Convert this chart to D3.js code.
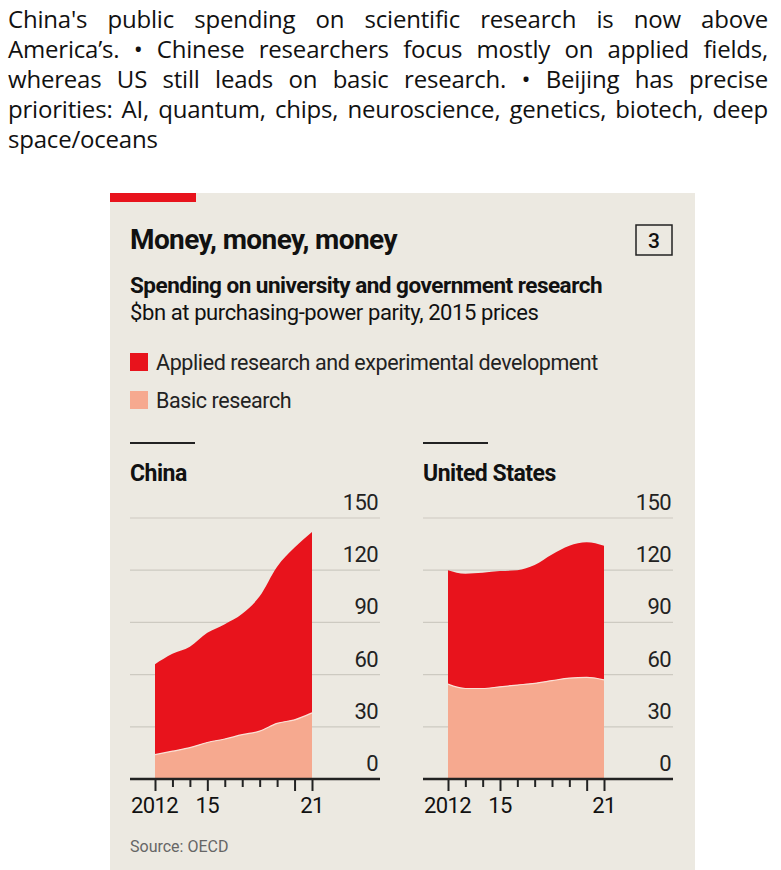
<!DOCTYPE html>
<html><head><meta charset="utf-8">
<script src="https://cdn.jsdelivr.net/npm/d3@7"></script>
<style>
body{margin:0;background:#fff;width:781px;height:870px;overflow:hidden}
#intro{position:absolute;left:8px;top:4px;width:760px;font-family:"Open Sans","Noto Sans",sans-serif;font-size:24px;line-height:30px;text-align:justify;color:#111;margin:0;letter-spacing:-0.2px}
svg{position:absolute;left:0;top:0}
</style></head><body>
<p id="intro">China's public spending on scientific research is now above America’s. • Chinese researchers focus mostly on applied fields, whereas US still leads on basic research. • Beijing has precise priorities: AI, quantum, chips, neuroscience, genetics, biotech, deep space/oceans</p>
<svg width="781" height="870"></svg>
<script>
const years = [2012, 2013, 2014, 2015, 2016, 2017, 2018, 2019, 2020, 2021]
const yTicks = [0, 30, 60, 90, 120, 150]
const chinaTotal = [66, 72, 76, 84, 89, 95, 105, 122, 133, 142]
const chinaBasic = [14, 16, 18, 21, 23, 25.5, 27.5, 32, 34, 38]
const usTotal = [120, 118, 118.5, 119.5, 120, 123, 129, 134, 136, 134]
const usBasic = [54.5, 52, 52, 53, 54, 55, 56.5, 58, 58.4, 57]
const panels = [
  {name: 'China', total: chinaTotal, basic: chinaBasic, x0: 130, x1: 380, xs: 155, xe: 312},
  {name: 'United States', total: usTotal, basic: usBasic, x0: 423, x1: 673, xs: 448, xe: 604},
]
const red = '#e8131c', pink = '#f6a98f', bg = '#ece9e1'
const font = 'Roboto, "Liberation Sans", sans-serif'

const svg = d3.select('svg')
svg.append('rect').attr('x', 110).attr('y', 193).attr('width', 585).attr('height', 677).attr('fill', bg)
svg.append('rect').attr('x', 110).attr('y', 193).attr('width', 86).attr('height', 9).attr('fill', red)

const txt = (x, y, s, size, weight, fill, anchor) => svg.append('text')
  .attr('x', x).attr('y', y).text(s).attr('font-family', font).attr('font-size', size)
  .attr('font-weight', weight || 400).attr('fill', fill || '#111').attr('text-anchor', anchor || 'start')

txt(130, 249, 'Money, money, money', 28, 700).attr('letter-spacing', -0.6)
svg.append('rect').attr('x', 636).attr('y', 225).attr('width', 36).attr('height', 30)
  .attr('fill', 'none').attr('stroke', '#222').attr('stroke-width', 1.5)
txt(654, 248, '3', 21, 500, '#111', 'middle')
txt(130, 293, 'Spending on university and government research', 22.5, 700).attr('letter-spacing', -0.5)
txt(130, 320, '$bn at purchasing-power parity, 2015 prices', 22, 400).attr('letter-spacing', -0.4)
svg.append('rect').attr('x', 130).attr('y', 353).attr('width', 18).attr('height', 18).attr('fill', red)
txt(156, 370, 'Applied research and experimental development', 21.5, 400, '#222').attr('letter-spacing', -0.4)
svg.append('rect').attr('x', 130).attr('y', 391).attr('width', 18).attr('height', 18).attr('fill', pink)
txt(156, 408, 'Basic research', 21.5, 400, '#222').attr('letter-spacing', -0.4)
txt(130, 852, 'Source: OECD', 16, 400, '#666')

const y = d3.scaleLinear().domain([0, 150]).range([779, 518])

panels.forEach(p => {
  const x = d3.scaleLinear().domain([2012, 2021]).range([p.xs, p.xe])
  svg.append('line').attr('x1', p.x0).attr('x2', p.x0 + 65).attr('y1', 443).attr('y2', 443)
    .attr('stroke', '#222').attr('stroke-width', 2)
  txt(p.x0, 481, p.name, 23, 700).attr('letter-spacing', -0.5)

  const g = svg.append('g')
  yTicks.slice(1).forEach(t => g.append('line').attr('x1', p.x0).attr('x2', p.x1)
    .attr('y1', y(t)).attr('y2', y(t)).attr('stroke', '#cdcac1').attr('stroke-width', 1.2))
  yTicks.forEach(t => txt(p.x1 - 2, y(t) - 8, t, 22, 400, '#222', 'end').attr('letter-spacing', -0.6))

  const curve = d3.curveMonotoneX
  const applied = d3.area().x((d, i) => x(years[i])).y0((d, i) => y(p.basic[i])).y1(d => y(d)).curve(curve)
  const basic = d3.area().x((d, i) => x(years[i])).y0(y(0)).y1(d => y(d)).curve(curve)
  g.append('path').attr('d', applied(p.total)).attr('fill', red)
  g.append('path').attr('d', basic(p.basic)).attr('fill', pink)
  g.append('path').attr('d', d3.line().x((d, i) => x(years[i])).y(d => y(d)).curve(curve)(p.basic))
    .attr('fill', 'none').attr('stroke', '#fbe0d5').attr('stroke-width', 1.2)

  const ax = g.append('g').attr('transform', `translate(0,${y(0)})`)
    .call(d3.axisBottom(x).tickValues(years).tickSize(8).tickFormat(''))
  ax.select('.domain').remove()
  ax.selectAll('line').attr('stroke', '#222').attr('stroke-width', 2)
    .attr('y2', d => [2012, 2015, 2020, 2021].includes(d) ? 12 : 8)
  g.append('line').attr('x1', p.x0).attr('x2', p.x1).attr('y1', y(0)).attr('y2', y(0))
    .attr('stroke', '#222').attr('stroke-width', 2.5)
  txt(x(2012) - 24, 813, '2012', 22, 400, '#111').attr('letter-spacing', -0.6)
  txt(x(2015), 813, '15', 22, 400, '#111', 'middle').attr('letter-spacing', -0.6)
  txt(x(2021), 813, '21', 22, 400, '#111', 'middle').attr('letter-spacing', -0.6)
})
</script>
</body></html>
